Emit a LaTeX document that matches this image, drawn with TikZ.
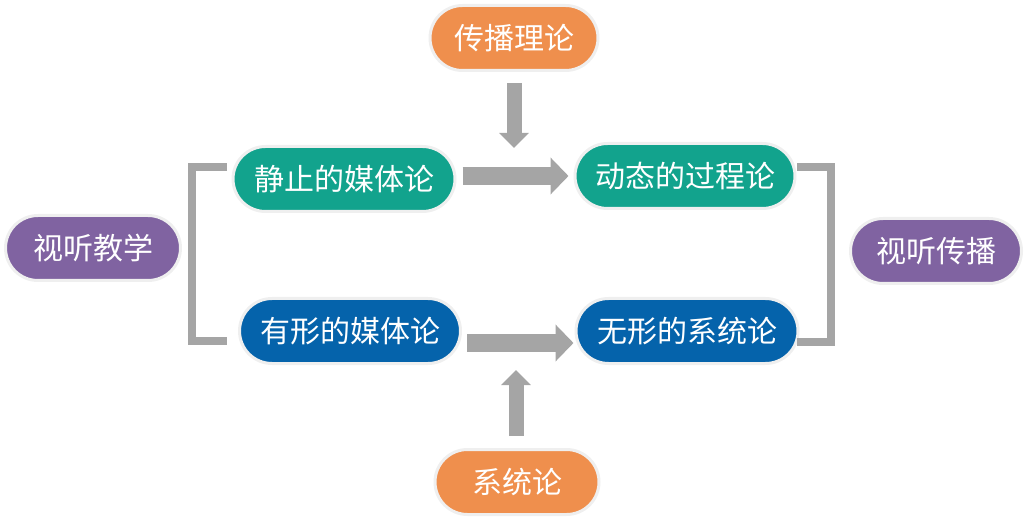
\documentclass[tikz,border=0pt]{standalone}
\usepackage{fontspec}
\newfontfamily\cjk{Noto Sans CJK SC}
\usetikzlibrary{shapes.misc,arrows.meta}
\definecolor{pillorange}{HTML}{EF8F4D}
\definecolor{pillteal}{HTML}{12A38D}
\definecolor{pillpurple}{HTML}{8063A1}
\definecolor{pillblue}{HTML}{0563AB}
\definecolor{pillborder}{HTML}{EFEFEF}
\definecolor{arrowgray}{HTML}{A5A5A5}
\tikzstyle{pill} = [rounded rectangle,draw=pillborder,line width=3pt,minimum height=65pt,inner sep=0pt,text=white,font=\cjk\fontsize{30}{35}\selectfont]
\tikzstyle{blockarrow} = [draw=arrowgray,line width=18pt,-{Triangle[length=18pt,width=36pt]}]
\tikzstyle{feedarrow} = [draw=arrowgray,line width=15pt,-{Triangle[length=15pt,width=29pt]}]
\tikzstyle{bracket} = [draw=arrowgray,line width=8pt,miter limit=10]
\begin{document}
\begin{tikzpicture}[x=1pt,y=-1pt]
      \useasboundingbox (0,0) rectangle (1028,521);
      %nodes
      \foreach \nodename/\x/\y/\w/\fillcolor/\value in {
        chuanbo/514/38/168/pillorange/传播理论,
        jingzhi/344/179/222/pillteal/静止的媒体论,
        dongtai/685/176/220/pillteal/动态的过程论,
        jiaoxue/93/248/175/pillpurple/视听教学,
        stchuanbo/936/251/171/pillpurple/视听传播,
        youxing/350/331/221/pillblue/有形的媒体论,
        wuxing/687/331/222/pillblue/无形的系统论,
        xitong/517/482/164/pillorange/系统论}
      {
        \node[pill, fill=\fillcolor, minimum width=\w pt] (\nodename) at (\x,\y) {\value};
      };
      \coordinate (downtip) at (514,148);
      \coordinate (uptip) at (516,370);
      %brackets
      \coordinate (lb1) at (227,167);
      \coordinate (lb2) at (192,167);
      \coordinate (lb3) at (192,341);
      \coordinate (lb4) at (227,341);
      \coordinate (rb1) at (797,167);
      \coordinate (rb2) at (831,167);
      \coordinate (rb3) at (831,342);
      \coordinate (rb4) at (797,342);
      \draw[bracket] (lb1) -- (lb2) -- (lb3) -- (lb4);
      \draw[bracket] (rb1) -- (rb2) -- (rb3) -- (rb4);
      %arrows
      \draw[blockarrow] ([shift={(6,-3)}]jingzhi.east) -- ([shift={(-5,0)}]dongtai.west);
      \draw[blockarrow] ([shift={(5,12)}]youxing.east) -- ([shift={(-1,12)}]wuxing.west);
      \draw[feedarrow] ([shift={(0,11)}]chuanbo.south) -- (downtip);
      \draw[feedarrow] ([shift={(-1,-12)}]xitong.north) -- (uptip);
    \end{tikzpicture}
\end{document}
